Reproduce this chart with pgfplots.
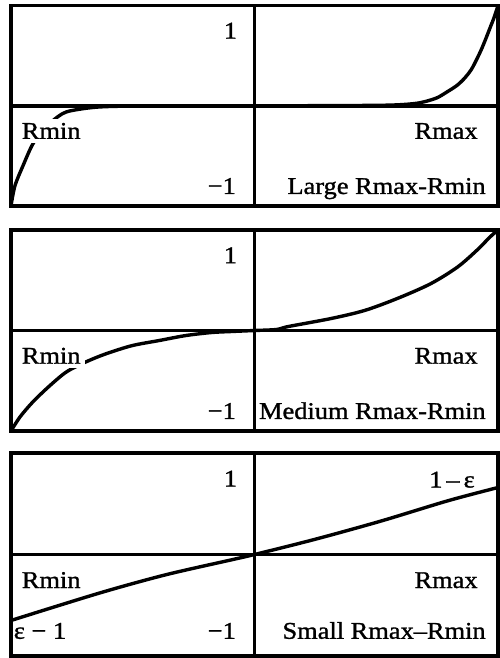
\documentclass[border=0pt]{standalone}
\usepackage{pgfplots}
\pgfplotsset{compat=1.18}
\usepackage{fontspec}
\setmainfont{Liberation Serif}[FakeStretch=1.1, FakeBold=1.2]

\pgfplotsset{
  panel/.style={
    scale only axis, width=243.5pt, anchor=north west,
    xmin=-1, xmax=1, ymin=-1, ymax=1,
    xtick=\empty, ytick=\empty,
    extra x ticks={0}, extra y ticks={0},
    extra x tick labels={}, extra y tick labels={},
    extra x tick style={grid=major, major tick length=0pt},
    extra y tick style={grid=major, major tick length=0pt},
    major grid style={black, line width=1.8pt},
    axis line style={line width=1.8pt},
  },
  curve/.style={black, line width=1.7pt, smooth, line join=round, no marks},
}
\tikzset{lab/.style={inner sep=0pt, font=\fontsize{12}{14}\selectfont}}

\begin{document}
\begin{tikzpicture}
\useasboundingbox (0,0) rectangle (249.5pt,-329pt);

% large Rmax-Rmin
\begin{axis}[panel, height=100.25pt, at={(5.5pt,-2.75pt)}]
\addplot[curve] coordinates {(-1,-1) (-0.984,-0.80) (-0.951,-0.60) (-0.91,-0.38)
  (-0.86,-0.22) (-0.808,-0.11) (-0.771,-0.06) (-0.706,-0.03) (-0.637,-0.012)
  (-0.527,-0.004) (-0.3,-0.001) (0,0) (0.3,0.001) (0.55,0.006) (0.65,0.02)
  (0.698,0.04) (0.75,0.08) (0.792,0.14) (0.83,0.2) (0.861,0.27) (0.89,0.36)
  (0.914,0.47) (0.935,0.58) (0.955,0.70) (0.971,0.80) (0.984,0.88) (1,1)};
\node[lab, anchor=base east] at (axis cs:-0.07,0.67) {1};
\node[lab, anchor=base east] at (axis cs:-0.075,-0.88) {−1};
\node[lab, anchor=base west, fill=white, inner xsep=2pt, inner ysep=2pt, xshift=-2pt] at (axis cs:-0.957,-0.33) {Rmin};
\node[lab, anchor=base east] at (axis cs:0.918,-0.33) {Rmax};
\node[lab, anchor=base east] at (axis cs:0.951,-0.88) {Large Rmax-Rmin};
\end{axis}

% medium Rmax-Rmin
\begin{axis}[panel, height=100.5pt, at={(5.5pt,-115pt)}]
\addplot[curve] coordinates {(-1,-1) (-0.963,-0.86) (-0.91,-0.71) (-0.841,-0.55)
  (-0.771,-0.41) (-0.69,-0.31) (-0.608,-0.23) (-0.502,-0.15) (-0.392,-0.10)
  (-0.282,-0.05) (-0.176,-0.02) (-0.094,-0.01) (0,0) (0.09,0.01) (0.14,0.04)
  (0.316,0.12) (0.453,0.20) (0.588,0.32) (0.723,0.465) (0.833,0.63)
  (0.914,0.80) (0.967,0.93) (1,1)};
\node[lab, anchor=base east] at (axis cs:-0.07,0.67) {1};
\node[lab, anchor=base east] at (axis cs:-0.075,-0.88) {−1};
\node[lab, anchor=base west, fill=white, inner xsep=2pt, inner ysep=2pt, xshift=-2pt] at (axis cs:-0.957,-0.33) {Rmin};
\node[lab, anchor=base east] at (axis cs:0.918,-0.33) {Rmax};
\node[lab, anchor=base east] at (axis cs:0.951,-0.88) {Medium Rmax-Rmin};
\end{axis}

% small Rmax-Rmin
\begin{axis}[panel, height=101.5pt, at={(5.5pt,-226.5pt)}]
\addplot[curve] coordinates {(-1,-0.65) (-0.637,-0.38) (-0.365,-0.20)
  (-0.09,-0.05) (0,0) (0.249,0.15) (0.52,0.33) (0.795,0.53) (1,0.66)};
\node[lab, anchor=base east] at (axis cs:-0.07,0.67) {1};
\node[lab, anchor=base east] at (axis cs:0.906,0.66) {1\,–\,ε};
\node[lab, anchor=base east] at (axis cs:-0.075,-0.83) {−1};
\node[lab, anchor=base west] at (axis cs:-0.99,-0.83) {ε − 1};
\node[lab, anchor=base west, fill=white, inner xsep=2pt, inner ysep=2pt, xshift=-2pt] at (axis cs:-0.957,-0.33) {Rmin};
\node[lab, anchor=base east] at (axis cs:0.918,-0.33) {Rmax};
\node[lab, anchor=base east] at (axis cs:0.951,-0.83) {Small Rmax–Rmin};
\end{axis}
\end{tikzpicture}
\end{document}
